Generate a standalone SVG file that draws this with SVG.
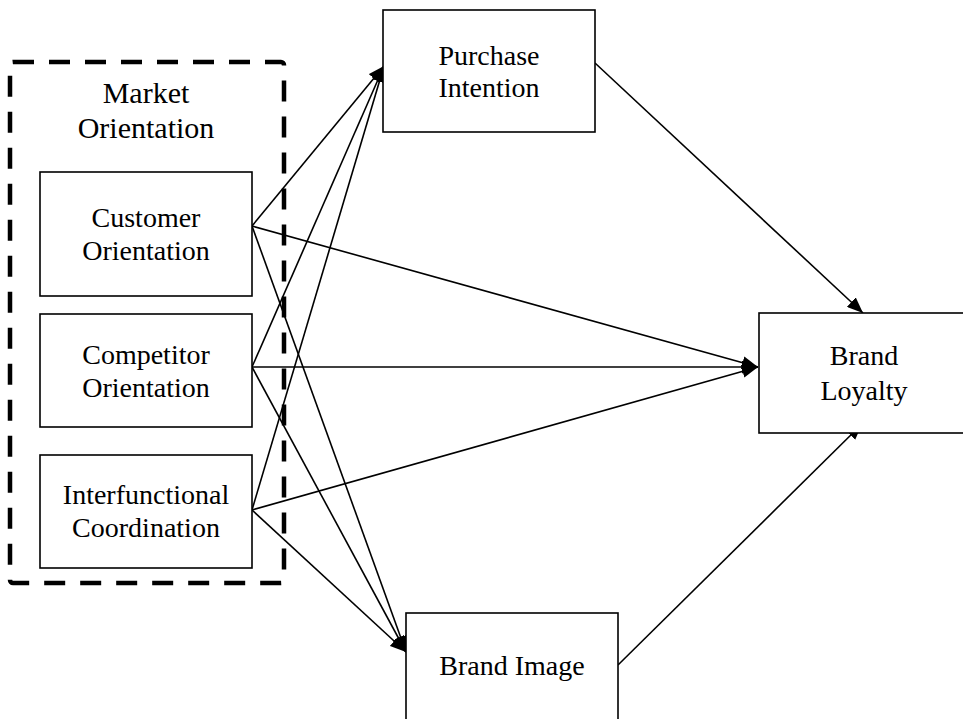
<svg xmlns="http://www.w3.org/2000/svg" width="963" height="719" viewBox="0 0 963 719">
<style>
.box{fill:#fff;stroke:#000;stroke-width:1.6}
.t{font-family:"Liberation Serif","Times New Roman",serif;font-size:28px;fill:#000;text-anchor:middle}
.big{font-size:30px}
.c{stroke:#000;stroke-width:1.6;fill:none;marker-end:url(#ah)}
</style>
<defs>
<marker id="ah" markerUnits="userSpaceOnUse" markerWidth="17" markerHeight="13" refX="16" refY="6.5" orient="auto">
<path d="M0,0 L16,6.5 L0,13 z" fill="#000"/>
</marker>
</defs>
<rect width="963" height="719" fill="#fff"/>
<g id="market-orientation">
<rect x="10" y="62" width="274" height="521" rx="3" fill="none" stroke="#000" stroke-width="4.5" stroke-dasharray="21 15"/>
<text class="t big" x="146" y="103">Market</text>
<text class="t big" x="146" y="138">Orientation</text>
</g>
<g id="connectors">
<line class="c" x1="252" y1="226" x2="384" y2="66"/>
<line class="c" x1="252" y1="226" x2="758" y2="367"/>
<line class="c" x1="252" y1="226" x2="406" y2="652"/>
<line class="c" x1="252" y1="367" x2="384" y2="66"/>
<line class="c" x1="252" y1="367" x2="758" y2="367"/>
<line class="c" x1="252" y1="367" x2="406" y2="652"/>
<line class="c" x1="252" y1="510" x2="384" y2="66"/>
<line class="c" x1="252" y1="510" x2="758" y2="367"/>
<line class="c" x1="252" y1="510" x2="406" y2="652"/>
<line class="c" x1="595" y1="63" x2="863" y2="313"/>
<line class="c" x1="618" y1="665" x2="862" y2="424"/>
</g>
<g id="customer-orientation">
<rect class="box" x="40" y="172" width="212" height="124"/>
<text class="t" x="146" y="227">Customer</text>
<text class="t" x="146" y="260">Orientation</text>
</g>
<g id="competitor-orientation">
<rect class="box" x="40" y="314" width="212" height="113"/>
<text class="t" x="146" y="364">Competitor</text>
<text class="t" x="146" y="397">Orientation</text>
</g>
<g id="interfunctional-coordination">
<rect class="box" x="40" y="455" width="212" height="113"/>
<text class="t" x="146" y="504">Interfunctional</text>
<text class="t" x="146" y="537">Coordination</text>
</g>
<g id="purchase-intention">
<rect class="box" x="383" y="10" width="212" height="122"/>
<text class="t" x="489" y="65">Purchase</text>
<text class="t" x="489" y="97">Intention</text>
</g>
<g id="brand-loyalty">
<rect class="box" x="759" y="313" width="210" height="120"/>
<text class="t" x="864" y="365">Brand</text>
<text class="t" x="864" y="400">Loyalty</text>
</g>
<g id="brand-image">
<rect class="box" x="406" y="613" width="212" height="120"/>
<text class="t" x="512" y="675">Brand Image</text>
</g>
</svg>
